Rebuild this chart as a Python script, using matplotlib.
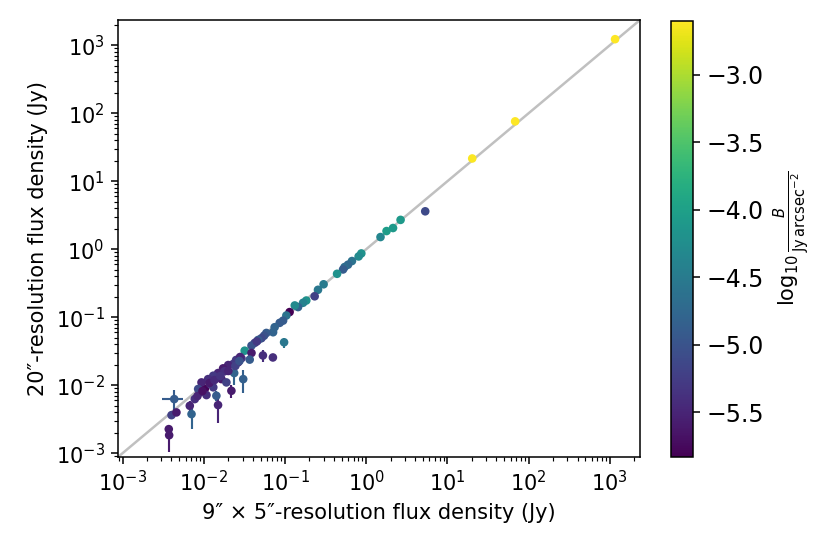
import numpy as np
import matplotlib
matplotlib.use("Agg")
import matplotlib.pyplot as plt
from matplotlib.colors import Normalize

# 9"x5" resolution flux density (Jy)
x = [1159, 68.2, 20.2, 5.33, 2.65, 2.14, 1.78, 1.50, 0.871, 0.807,
     0.668, 0.597, 0.542, 0.519, 0.438, 0.299, 0.255, 0.232, 0.183, 0.167,
     0.145, 0.132, 0.114, 0.104, 0.0948, 0.0861, 0.0746, 0.0714, 0.0590, 0.0553,
     0.0513, 0.0467, 0.0424, 0.0975, 0.0387, 0.0319, 0.0387, 0.0535, 0.0710, 0.0368,
     0.0291, 0.0265, 0.0230, 0.0200, 0.0173, 0.0237, 0.0306, 0.0150, 0.0131, 0.0165,
     0.0190, 0.0219, 0.0113, 0.0103, 0.00938, 0.00893, 0.00775, 0.00673, 0.0131, 0.0143,
     0.0150, 0.00707, 0.00433, 0.00401, 0.00461, 0.00371, 0.00375, 0.00853, 0.0108, 0.0250,
     0.0180, 0.0120, 0.0280, 0.0450, 0.01175, 0.01355, 0.0160, 0.0201, 0.0245, 0.0275,
     0.00836, 0.00964]
# 20" resolution flux density (Jy)
y = [1227, 75.9, 21.6, 3.61, 2.70, 2.05, 1.85, 1.51, 0.867, 0.783,
     0.670, 0.592, 0.547, 0.504, 0.435, 0.305, 0.253, 0.203, 0.176, 0.163,
     0.141, 0.149, 0.119, 0.106, 0.0891, 0.0826, 0.0713, 0.0601, 0.0587, 0.0535,
     0.0491, 0.0463, 0.0419, 0.0428, 0.0382, 0.0322, 0.0298, 0.0274, 0.0256, 0.0238,
     0.0249, 0.0217, 0.0205, 0.0198, 0.0177, 0.0151, 0.0123, 0.0151, 0.0138, 0.0123,
     0.0110, 0.00828, 0.0123, 0.00880, 0.0110, 0.00785, 0.00625, 0.00498, 0.00931, 0.00700,
     0.00511, 0.00376, 0.00625, 0.00363, 0.00398, 0.00226, 0.00184, 0.00880, 0.00716, 0.0235,
     0.0160, 0.0105, 0.0260, 0.0440, 0.01076, 0.0119, 0.01365, 0.0162, 0.0192, 0.0227,
     0.00692, 0.0082]
# log10 surface brightness
c = [-2.60, -2.61, -2.62, -5.10, -4.10, -4.10, -4.05, -4.35, -4.20, -4.30,
     -4.60, -4.75, -4.70, -4.90, -4.20, -4.50, -4.55, -5.20, -4.20, -4.40,
     -4.80, -4.30, -5.83, -4.60, -4.90, -4.90, -4.80, -4.80, -4.90, -5.00,
     -5.10, -4.90, -5.20, -4.55, -5.00, -4.20, -5.60, -5.40, -5.40, -4.90,
     -5.30, -5.50, -5.30, -5.50, -5.60, -4.80, -4.85, -5.50, -5.30, -5.60,
     -5.20, -5.60, -5.40, -5.80, -5.50, -5.50, -5.40, -5.50, -5.30, -4.90,
     -5.50, -4.80, -4.90, -5.20, -5.60, -5.60, -5.60, -5.10, -5.40, -5.30,
     -5.40, -5.20, -5.50, -5.30, -5.60, -5.45, -5.35, -5.50, -5.20, -5.00,
     -5.50, -5.70]
# uncertainties (Jy)
xerr = [0] * 62 + [0.00125] + [0] * 19
yerr = [0, 0, 0, 0, 0, 0, 0, 0, 0, 0,
        0, 0, 0, 0, 0, 0, 0, 0, 0, 0,
        0, 0, 0, 0, 0, 0, 0, 0, 0, 0,
        0, 0, 0, 0.007, 0, 0, 0, 0.0055, 0, 0,
        0, 0, 0, 0, 0, 0.005, 0.0045, 0, 0, 0,
        0, 0.0017, 0, 0, 0, 0, 0, 0.0008, 0, 0.0012,
        0.0023, 0.0015, 0.0024, 0, 0.0005, 0, 0.0008, 0, 0, 0,
        0, 0, 0, 0, 0, 0, 0, 0, 0, 0,
        0, 0]

lims = [8.8e-4, 2.35e3]

plt.rcParams['font.size'] = 10.9
fig = plt.figure(figsize=(6.0, 4.005), dpi=138.33)
ax = fig.add_axes([0.1422, 0.1751, 0.6289, 0.7888])
cax = fig.add_axes([0.809, 0.1757, 0.0265, 0.7864])

ax.plot(lims, lims, color='#c0c0c0', lw=1.3, zorder=0)

cmap = plt.get_cmap('viridis')
norm = Normalize(vmin=min(c), vmax=max(c))
for xi, yi, ci, xe, ye in zip(x, y, c, xerr, yerr):
    if xe > 0 or ye > 0:
        ax.errorbar(xi, yi, xerr=xe if xe > 0 else None, yerr=ye if ye > 0 else None,
                    fmt='none', ecolor=cmap(norm(ci)), elinewidth=1.1, zorder=1)
sc = ax.scatter(x, y, c=c, cmap=cmap, norm=norm, s=20, linewidths=0, zorder=2)

ax.set_xscale('log')
ax.set_yscale('log')
ax.set_xlim(lims)
ax.set_ylim(lims)
ax.set_xlabel('9″ × 5″-resolution flux density (Jy)')
ax.set_ylabel('20″-resolution flux density (Jy)')

cb = fig.colorbar(sc, cax=cax)
cb.ax.tick_params(labelsize=12.3)
cb.set_label(r'$\log_{10}\frac{B}{\mathrm{Jy\,arcsec}^{-2}}$', fontsize=10.9)

fig.savefig('out.png', dpi=138.33)
